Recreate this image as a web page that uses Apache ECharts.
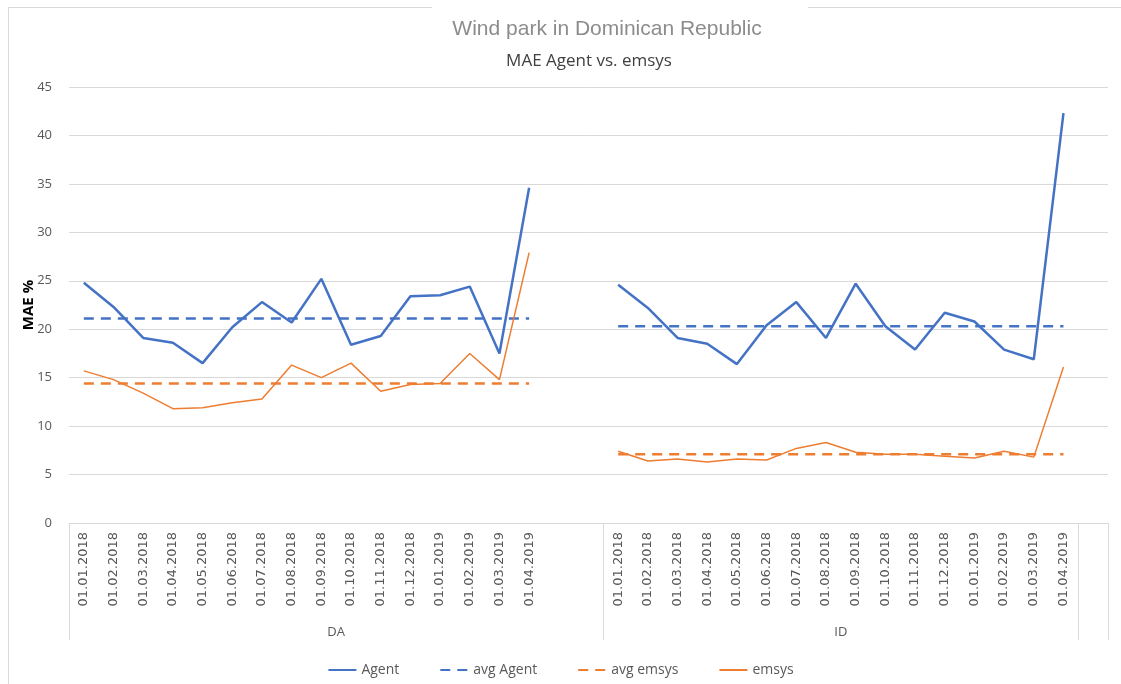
<!DOCTYPE html>
<html>
<head>
<meta charset="utf-8">
<title>MAE Agent vs. emsys</title>
<script src="https://cdn.jsdelivr.net/npm/echarts@6/dist/echarts.min.js"></script>
<style>
    html, body { margin: 0; padding: 0; background: #ffffff; }
    #myChart { width: 1121px; height: 684px; }
</style>
</head>
<body>
<div id="myChart"></div>
<script>
    // months shown under each group
    const months = ['01.01.2018', '01.02.2018', '01.03.2018', '01.04.2018', '01.05.2018', '01.06.2018',
        '01.07.2018', '01.08.2018', '01.09.2018', '01.10.2018', '01.11.2018', '01.12.2018',
        '01.01.2019', '01.02.2019', '01.03.2019', '01.04.2019']
    const groups = ['DA', 'ID']

    // DA values
    const agentDA = [24.8, 22.3, 19.1, 18.6, 16.5, 20.2, 22.8, 20.7, 25.2, 18.4, 19.3, 23.4, 23.5, 24.4, 17.5, 34.6]
    const emsysDA = [15.7, 14.8, 13.4, 11.8, 11.9, 12.4, 12.8, 16.3, 15.0, 16.5, 13.6, 14.3, 14.4, 17.5, 14.8, 27.9]
    // ID values
    const agentID = [24.6, 22.2, 19.1, 18.5, 16.4, 20.4, 22.8, 19.1, 24.7, 20.3, 17.9, 21.7, 20.8, 17.9, 16.9, 42.3]
    const emsysID = [7.4, 6.4, 6.6, 6.3, 6.6, 6.5, 7.7, 8.3, 7.3, 7.1, 7.1, 6.9, 6.7, 7.4, 6.8, 16.1]
    // averages [DA, ID]
    const avgAgent = [21.1, 20.3]
    const avgEmsys = [14.4, 7.1]

    const yTicks = [0, 5, 10, 15, 20, 25, 30, 35, 40, 45]

    // excel layout: 16 months + 2 empty slots for DA, 16 months for ID, 1 empty slot at the end
    const gapDA = 2, gapEnd = 1
    const categories = months.concat(Array(gapDA).fill(''), months, Array(gapEnd).fill(''))
    const join = (a, b) => a.concat(Array(gapDA).fill(null), b, Array(gapEnd).fill(null))
    const flat = (v) => Array(months.length).fill(v)

    const nDA = months.length + gapDA
    const nAll = categories.length
    const groupBounds = [0, nDA, nDA + months.length, nAll]
    const groupCenters = [nDA / 2, nDA + months.length / 2]

    const blue = '#4472C4'
    const orange = '#ED7D31'

    let myChart = echarts.init(document.getElementById('myChart'))
    myChart.setOption({
        backgroundColor: '#ffffff',
        animation: false,
        title: [
            {
                text: 'Wind park in Dominican Republic',
                left: 607, top: 19, padding: 0, textAlign: 'center',
                textStyle: { fontFamily: 'Liberation Sans', fontSize: 21, fontWeight: 'normal', color: '#8c8c8c' }
            },
            {
                text: 'MAE Agent vs. emsys',
                left: 589, top: 53, padding: 0, textAlign: 'center',
                textStyle: { fontFamily: 'Open Sans', fontSize: 17, fontWeight: 'normal', color: '#404040' }
            }
        ],
        graphic: [
            { type: 'line', shape: { x1: 8, y1: 7.5, x2: 432, y2: 7.5 }, style: { stroke: '#d9d9d9', lineWidth: 1 } },
            { type: 'line', shape: { x1: 808, y1: 7.5, x2: 1121, y2: 7.5 }, style: { stroke: '#d9d9d9', lineWidth: 1 } },
            { type: 'line', shape: { x1: 8.5, y1: 7, x2: 8.5, y2: 684 }, style: { stroke: '#d9d9d9', lineWidth: 1 } }
        ],
        legend: {
            bottom: 2,
            left: 'center',
            itemWidth: 28,
            itemGap: 40,
            itemStyle: { opacity: 0 },
            textStyle: { fontFamily: 'Open Sans', fontSize: 14, color: '#595959' },
            data: ['Agent', 'avg Agent', 'avg emsys', 'emsys']
        },
        grid: { left: 69, right: 13, top: 87, bottom: 161 },
        xAxis: [
            {
                type: 'category',
                data: categories,
                boundaryGap: true,
                axisLine: { lineStyle: { color: '#d9d9d9' } },
                axisTick: { show: false },
                axisLabel: {
                    interval: 0, rotate: 90, margin: 9,
                    fontFamily: 'DejaVu Sans', fontSize: 13, color: '#595959'
                }
            },
            {
                type: 'value',
                position: 'bottom',
                min: 0, max: nAll,
                splitLine: { show: false },
                axisLine: { show: false },
                axisTick: {
                    show: true, length: 117, inside: false,
                    customValues: groupBounds,
                    lineStyle: { color: '#d9d9d9' }
                },
                axisLabel: {
                    margin: 103,
                    customValues: groupCenters,
                    formatter: (v) => groups[groupCenters.indexOf(v)] || '',
                    fontFamily: 'Open Sans', fontSize: 13, color: '#595959'
                }
            }
        ],
        yAxis: {
            type: 'value',
            min: yTicks[0], max: yTicks[yTicks.length - 1], interval: 5,
            name: 'MAE %',
            nameLocation: 'middle',
            nameGap: 33,
            nameMoveOverlap: false,
            nameTextStyle: { fontFamily: 'Open Sans', fontSize: 15, fontWeight: 'bold', color: '#000000' },
            axisLine: { show: false },
            axisTick: { show: false },
            axisLabel: { margin: 17, fontFamily: 'Open Sans', fontSize: 13, color: '#595959' },
            splitLine: { lineStyle: { color: '#d9d9d9', width: 1 } }
        },
        series: [
            {
                name: 'Agent', type: 'line', symbol: 'none',
                data: join(agentDA, agentID),
                itemStyle: { color: blue },
                lineStyle: { color: blue, width: 2.5 },
                z: 4
            },
            {
                name: 'avg Agent', type: 'line', symbol: 'none',
                data: join(flat(avgAgent[0]), flat(avgAgent[1])),
                itemStyle: { color: blue },
                lineStyle: { color: blue, width: 2.5, type: [10, 7] },
                z: 3
            },
            {
                name: 'avg emsys', type: 'line', symbol: 'none',
                data: join(flat(avgEmsys[0]), flat(avgEmsys[1])),
                itemStyle: { color: orange },
                lineStyle: { color: orange, width: 2.5, type: [10, 7] },
                z: 2
            },
            {
                name: 'emsys', type: 'line', symbol: 'none',
                data: join(emsysDA, emsysID),
                itemStyle: { color: orange },
                lineStyle: { color: orange, width: 1.5 },
                z: 5
            }
        ]
    })
</script>
</body>
</html>
